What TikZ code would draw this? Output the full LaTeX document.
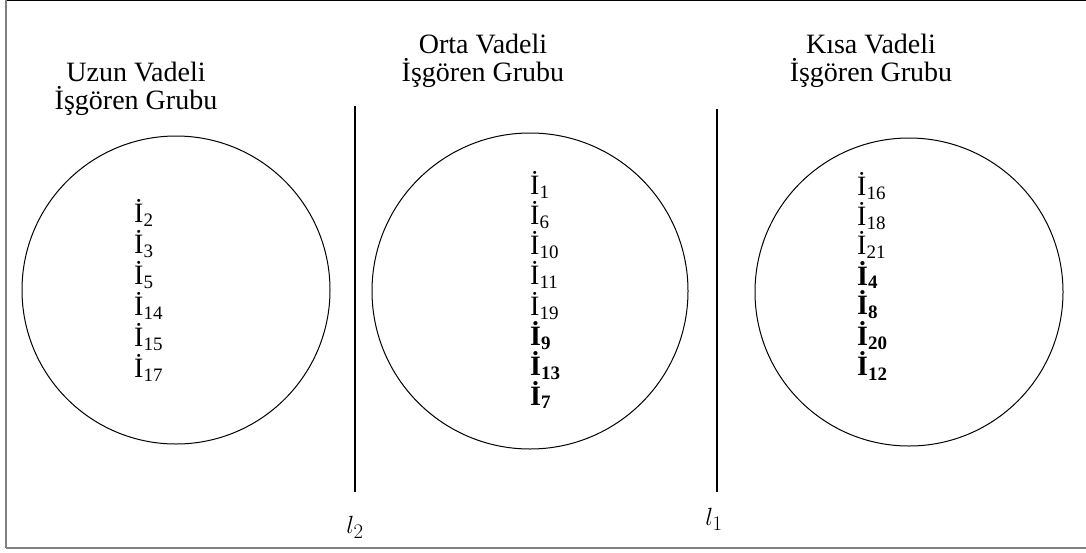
\documentclass[tikz,border=0pt]{standalone}
\usepackage{fontspec}
\setmainfont{Liberation Serif}
\begin{document}
\begin{tikzpicture}[x=1pt,y=-1pt,
  title/.style={font=\fontsize{28}{28}\selectfont, align=center, inner sep=0pt},
  item/.style={font=\fontsize{28}{30}\selectfont, anchor=west, inner sep=0pt},
  grp/.style={draw, line width=1pt},
  sep/.style={draw, line width=2pt},
  lab/.style={font=\fontsize{30}{30}\selectfont, inner sep=0pt}]
\useasboundingbox (0,0) rectangle (1086,552);
% frame
\draw[line width=1.2pt] (6,0.6) -- (1086,0.6);
\draw[gray, line width=2pt] (6,0) -- (6,548);
\draw[gray, line width=2pt] (6,548) -- (1086,548);
% circles
\node[grp, circle, minimum size=308pt, inner sep=0pt] (c1) at (176,290) {};
\node[grp, circle, minimum size=316pt, inner sep=0pt] (c2) at (530,291) {};
\node[grp, circle, minimum size=308pt, inner sep=0pt] (c3) at (909,292) {};
% titles
\node[title] (t1) at (136,89) {Uzun Vadeli\\İşgören Grubu};
\node[title] (t2) at (483,61) {Orta Vadeli\\İşgören Grubu};
\node[title] (t3) at (871,61) {Kısa Vadeli\\İşgören Grubu};
% separators
\coordinate (s2a) at (355,106); \coordinate (s2b) at (355,492);
\coordinate (s1a) at (716.5,109); \coordinate (s1b) at (716.5,492);
\draw[sep] (s2a) -- (s2b);
\draw[sep] (s1a) -- (s1b);
\node[lab] (l2) at (355,527) {$l_2$};
\node[lab] (l1) at (714,519) {$l_1$};
% lists
\newcommand{\ii}[1]{İ\textsubscript{\fontsize{19}{19}\selectfont #1}}
\newcommand{\ib}[1]{\textbf{İ\textsubscript{\fontsize{19}{19}\selectfont #1}}}
\node[item] (a1) at (134,213) {\ii{2}};
\node[item] (a2) at (134,244) {\ii{3}};
\node[item] (a3) at (134,275) {\ii{5}};
\node[item] (a4) at (134,306) {\ii{14}};
\node[item] (a5) at (134,337) {\ii{15}};
\node[item] (a6) at (134,368) {\ii{17}};
% middle list
\node[item] (b1) at (530,185) {\ii{1}};
\node[item] (b2) at (530,215) {\ii{6}};
\node[item] (b3) at (530,245) {\ii{10}};
\node[item] (b4) at (530,275) {\ii{11}};
\node[item] (b5) at (530,306) {\ii{19}};
\node[item] (b6) at (530,336) {\ib{9}};
\node[item] (b7) at (530,366) {\ib{13}};
\node[item] (b8) at (530,395) {\ib{7}};
% right list
\node[item] (r1) at (857,186) {\ii{16}};
\node[item] (r2) at (857,216) {\ii{18}};
\node[item] (r3) at (857,245) {\ii{21}};
\node[item] (r4) at (857,275) {\ib{4}};
\node[item] (r5) at (857,305) {\ib{8}};
\node[item] (r6) at (857,336) {\ib{20}};
\node[item] (r7) at (857,366) {\ib{12}};
\end{tikzpicture}
\end{document}
